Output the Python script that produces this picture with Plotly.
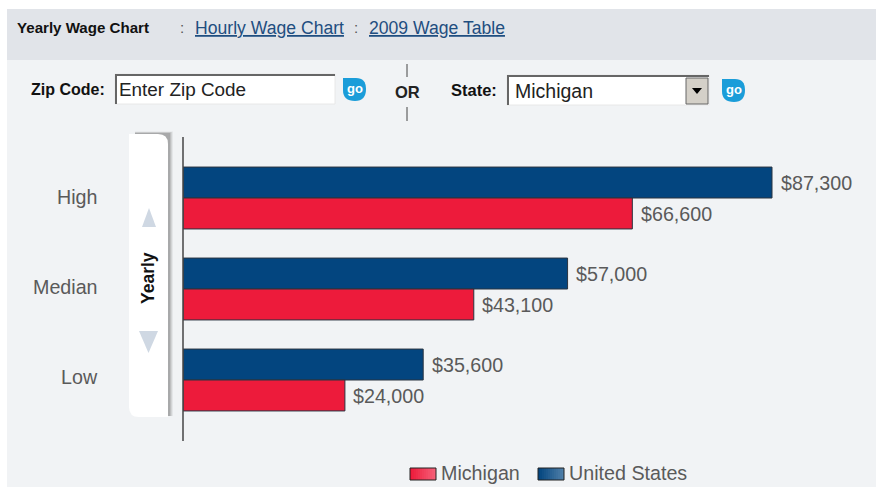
import plotly.graph_objects as go

W, H = 876, 487
categories = ["High", "Median", "Low"]
series_us = "United States"
series_state = "Michigan"
us_values = [87300, 57000, 35600]
state_values = [66600, 43100, 24000]

BLUE, RED = "#03457F", "#ED1B3B"
GREY = "#5A5A5A"
FONT = "Liberation Sans"
CHART_SIZE = 19.7

def X(p): return p / W
def Y(p): return 1 - p / H

shapes, notes = [], []

def rect(x0, y0, x1, y1, fill, line=None, width=0, opacity=1, layer="below"):
    shapes.append(dict(type="rect", xref="paper", yref="paper", x0=X(x0), x1=X(x1), y0=Y(y0), y1=Y(y1),
                       fillcolor=fill, opacity=opacity, layer=layer,
                       line=dict(color=line or fill, width=width)))

def path(points, fill, layer="above"):
    d = "M" + " L".join(f"{X(a):.5f},{Y(b):.5f}" for a, b in points) + " Z"
    shapes.append(dict(type="path", xref="paper", yref="paper", path=d, fillcolor=fill, layer=layer, line=dict(width=0)))

def hline(x0, y0, x1, y1, color, width=1):
    shapes.append(dict(type="line", xref="paper", yref="paper", x0=X(x0), x1=X(x1), y0=Y(y0), y1=Y(y1),
                       layer="above", line=dict(color=color, width=width)))

def text(x, y, s, size=16, color="#111", bold=False, anchor="left", angle=0):
    shift = {"left": -2, "right": 2, "center": 0}[anchor]
    notes.append(dict(xref="paper", yref="paper", x=X(x + shift), y=Y(y), text=f"<b>{s}</b>" if bold else s,
                      showarrow=False, xanchor=anchor, yanchor="middle", textangle=angle,
                      font=dict(family=FONT, size=size, color=color)))

# panels
rect(7, 9, W, 60, "#E1E4E9")
rect(7, 60, W, H, "#F1F3F5")

# header
text(17, 28, "Yearly Wage Chart", 15.1, "#111", True)
text(180, 28, ":", 15, "#555")
text(195, 28, "<u>Hourly Wage Chart</u>", 17.6, "#1F4E80")
text(354, 28, ":", 15, "#555")
text(369, 28, "<u>2009 Wage Table</u>", 17.6, "#1F4E80")

# form controls
text(31, 89, "Zip Code:", 16, "#111", True)
rect(115, 74, 335, 104, "#FFFFFF", "#E8E8E8", 1)
hline(115, 75, 335, 75, "#666666", 2)
hline(116, 74, 116, 104, "#666666", 2)
text(119, 90, "Enter Zip Code", 18.9, "#222")

def go_icon(x, y):
    shapes.append(dict(type="path", xref="paper", yref="paper", layer="above", fillcolor="#1B9DD9", line=dict(width=0),
        path=(f"M{X(x)},{Y(y)} L{X(x+13)},{Y(y)} Q{X(x+23)},{Y(y)} {X(x+23)},{Y(y+11)} "
              f"Q{X(x+23)},{Y(y+23)} {X(x+12)},{Y(y+23)} Q{X(x)},{Y(y+23)} {X(x)},{Y(y+12)} Z")))
    text(x + 11.5, y + 10.5, "go", 13, "#FFFFFF", True, "center")

go_icon(343, 78)
hline(407, 64, 407, 77, "#444", 1)
hline(407, 107, 407, 121, "#444", 1)
text(407, 92, "OR", 16.5, "#222", True, "center")
text(451, 90, "State:", 16.5, "#111", True)
rect(507, 75, 709, 105, "#FFFFFF", "#E8E8E8", 1)
hline(507, 76, 709, 76, "#666666", 2)
hline(508, 75, 508, 105, "#666666", 2)
rect(686, 78, 708, 104, "#D4D0C8", "#666666", 1, layer="above")
path([(692, 88), (702, 88), (697, 94)], "#000000")
text(515, 91, series_state, 19.5, "#222")
go_icon(722, 79)

# Yearly tab
for off, op in [(5, .10), (4, .16), (3, .22), (2, .3)]:
    rect(135, 134 - off / 2, 168 + off, 416, "#777777", opacity=op)
shapes.append(dict(type="path", xref="paper", yref="paper", layer="below", fillcolor="#FFFFFF", line=dict(width=0),
    path=(f"M{X(129)},{Y(134)} L{X(158)},{Y(134)} Q{X(168)},{Y(134)} {X(168)},{Y(144)} L{X(168)},{Y(417)} "
          f"L{X(139)},{Y(417)} Q{X(129)},{Y(417)} {X(129)},{Y(407)} Z")))
path([(149, 208), (156, 227), (142, 227)], "#CFD8E3")
path([(139, 331), (158, 331), (148.5, 353)], "#CFD8E3")
text(148, 278, "Yearly", 17.5, "#111", True, "center", -90)

# axis line
hline(183, 137, 183, 441, "#444444", 1.5)

# category labels
for c, y in zip(categories, [197, 287, 377]):
    text(98, y, c, CHART_SIZE, GREY, False, "right")

# legend
def swatch(x, color_a, color_b, name):
    n = 13
    def mix(t):
        a = [int(color_a[i:i+2], 16) for i in (1, 3, 5)]
        b = [int(color_b[i:i+2], 16) for i in (1, 3, 5)]
        return "#" + "".join(f"{round(p+(q-p)*t):02x}" for p, q in zip(a, b))
    for i in range(n):
        rect(x + i * 2, 468, x + i * 2 + 2, 480, mix(i / (n - 1)), layer="above")
    shapes.append(dict(type="rect", xref="paper", yref="paper", x0=X(x), x1=X(x + 26), y0=Y(468), y1=Y(480),
                       layer="above", line=dict(color="#222222", width=1)))
    text(x + 31, 473, name, CHART_SIZE, GREY)

swatch(410, RED, "#F56078", series_state)
swatch(538, BLUE, "#4F7FA8", series_us)

PX_PER_DOLLAR = (772 - 183) / 87300
fmt = lambda v: f"${v:,}"
fig = go.Figure()
for name, vals, col, dy in [(series_us, us_values, BLUE, 15), (series_state, state_values, RED, -16)]:
    fig.add_bar(name=name, y=categories, x=vals, orientation="h", marker=dict(color=col, line=dict(color="#2A3440", width=1)),
                cliponaxis=False, showlegend=False)
    for c, v in zip(categories, vals):
        notes.append(dict(xref="x", yref="y", x=v, y=c, text=fmt(v), showarrow=False, xanchor="left", yanchor="middle",
                          xshift=6.5, yshift=dy, font=dict(family=FONT, size=CHART_SIZE, color=GREY)))

fig.update_layout(
    width=W, height=H, margin=dict(l=0, r=0, t=0, b=0), paper_bgcolor="#FFFFFF", plot_bgcolor="rgba(0,0,0,0)",
    barmode="group", bargap=0.32, bargroupgap=0, shapes=shapes, annotations=notes,
    xaxis=dict(domain=[X(183), 1], range=[0, (W - 183) / PX_PER_DOLLAR], visible=False),
    yaxis=dict(domain=[Y(425.5), Y(152.5)], autorange="reversed", type="category", showticklabels=False,
               showline=False, showgrid=False, ticks=""),
)
fig.write_html("out.html", config=dict(displayModeBar=False), post_script="document.body.style.margin='0';")
